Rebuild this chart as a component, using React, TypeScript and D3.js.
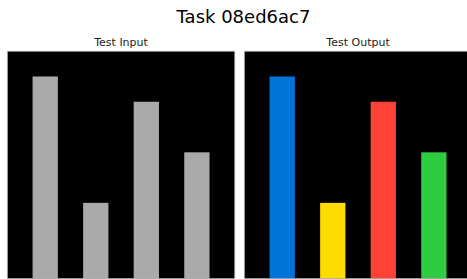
import React from "react";
import * as d3 from "d3";

const W = 467;
const H = 279;
const GRID_SIZE = 9;
const barColumns = [1, 3, 5, 7];
const barHeights = [8, 3, 7, 5];
const outputCodes = [1, 4, 2, 3];
const inputCode = 5;
const arcPalette = ["#000000", "#0074D9", "#FF4136", "#2ECC40", "#FFDC00", "#AAAAAA", "#F012BE", "#FF851B", "#7FDBFF", "#870C25"];
const panelTitles = ["Test Input", "Test Output"];
const mainTitle = "Task 08ed6ac7";

const panelCodes = [barColumns.map(() => inputCode), outputCodes];

const panelX = [7.3, 244.3];
const panelY = 51.2;
const panelSize = 227.5;

function Panel({ codes, x0, title }: { codes: number[]; x0: number; title: string }) {
  const xs = d3.scaleBand<number>().domain(d3.range(GRID_SIZE)).range([x0, x0 + panelSize]);
  const ys = d3.scaleLinear().domain([GRID_SIZE, 0]).range([panelY, panelY + panelSize]);
  return (
    <g>
      <text x={x0 + panelSize / 2} y={46} textAnchor="middle" fontSize={11} fontFamily="DejaVu Sans" fill="#222">
        {title}
      </text>
      <rect x={x0} y={panelY} width={panelSize} height={panelSize} fill={arcPalette[0]} />
      {barColumns.map((c, i) => (
        <rect
          key={c}
          x={xs(c)}
          y={ys(barHeights[i])}
          width={xs.bandwidth()}
          height={ys(0) - ys(barHeights[i])}
          fill={arcPalette[codes[i]]}
        />
      ))}
      <rect x={x0} y={panelY} width={panelSize} height={panelSize} fill="none" stroke="#bbb" strokeWidth={0.8} />
    </g>
  );
}

export default function App() {
  return (
    <svg width={W} height={H} style={{ position: "absolute", left: 0, top: 0, background: "#fff" }}>
      <text x={243.5} y={23} textAnchor="middle" fontSize={18} fontFamily="DejaVu Sans" fill="#000">
        {mainTitle}
      </text>
      {panelCodes.map((codes, i) => (
        <Panel key={i} codes={codes} x0={panelX[i]} title={panelTitles[i]} />
      ))}
    </svg>
  );
}
